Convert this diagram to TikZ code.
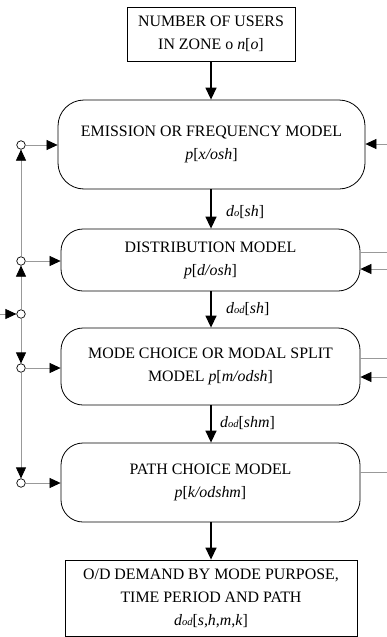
\documentclass[tikz,border=0pt]{standalone}
\usepackage{fontspec}
\setmainfont{Liberation Serif}
\usetikzlibrary{arrows.meta}
% small italic index set on the baseline, as in d_o and d_od
\newcommand{\lsub}[1]{{\fontsize{10.5}{10.5}\selectfont\itshape #1}}

\begin{document}
\begin{tikzpicture}[x=1pt,y=-1pt,
  font=\fontsize{15.9}{23}\selectfont,
  model/.style={draw, line width=0.8pt, rounded corners=22pt, align=center, inner sep=0pt},
  plainbox/.style={draw, line width=0.8pt, align=center, inner sep=0pt},
  flow/.style={line width=1.4pt, -{Triangle[length=12pt,width=11pt]}},
  feed/.style={draw=black!40, line width=0.7pt},
  feedarrow/.style={feed, -{Triangle[length=11pt,width=10pt,color=black]}},
  junction/.style={circle, draw, fill=white, inner sep=0pt, minimum size=8.5pt, line width=0.7pt},
  lbl/.style={anchor=west, inner sep=0pt}]

\useasboundingbox (0,0) rectangle (387,637);

% main chain of models
\node[plainbox, minimum width=168pt, minimum height=54pt] (users) at (211,34)
  {NUMBER OF USERS\\IN ZONE o \textit{n}[\textit{o}]};
\node[model, rounded corners=26pt, minimum width=307pt, minimum height=89pt] (emis) at (211.5,144.5)
  {EMISSION OR FREQUENCY MODEL\\\textit{p}[\textit{x/osh}]};
\node[model, minimum width=299pt, minimum height=62pt] (dist) at (210.5,260)
  {DISTRIBUTION MODEL\\\textit{p}[\textit{d/osh}]};
\node[model, minimum width=299pt, minimum height=77pt] (mode) at (210.5,366.5)
  {MODE CHOICE OR MODAL SPLIT\\MODEL \textit{p}[\textit{m/odsh}]};
\node[model, minimum width=299pt, minimum height=79pt] (path) at (210.5,482.5)
  {PATH CHOICE MODEL\\\textit{p}[\textit{k/odshm}]};
\node[plainbox, minimum width=292pt, minimum height=76pt] (demand) at (211,598)
  {O/D DEMAND BY MODE PURPOSE,\\TIME PERIOD AND PATH\\\textit{d}\lsub{od}[\textit{s},\textit{h},\textit{m},\textit{k}]};

% flows between the stages
\draw[flow] (users.south) -- (users.south |- emis.north);
\draw[flow] (users.south |- emis.south) -- (users.south |- dist.north);
\draw[flow] (users.south |- dist.south) -- (users.south |- mode.north);
\draw[flow] (users.south |- mode.south) -- (users.south |- path.north);
\draw[flow] (users.south |- path.south) -- (users.south |- demand.north);

\node[lbl] (l1) at (226,212) {\textit{d}\lsub{o}[\textit{sh}]};
\node[lbl] (l2) at (226,309) {\textit{d}\lsub{od}[\textit{sh}]};
\node[lbl] (l3) at (220,423) {\textit{d}\lsub{od}[\textit{shm}]};

% feedback on the left
\node[junction] (j1) at (21,145) {};
\node[junction] (j2) at (21,261) {};
\node[junction] (j3) at (21,314) {};
\node[junction] (j4) at (21,368) {};
\node[junction] (j5) at (21,483) {};
\coordinate (jin) at (0,314);

\draw[feedarrow] (jin) -- (j3);
\draw[feedarrow] (j3) -- (j2);
\draw[feedarrow] (j2) -- (j1);
\draw[feedarrow] (j3) -- (j4);
\draw[feedarrow] (j4) -- (j5);

\draw[feedarrow] (j1) -- (j1 -| emis.west);
\draw[feedarrow] (j2) -- (j2 -| dist.west);
\draw[feedarrow] (j4) -- (j4 -| mode.west);
\draw[feedarrow] (j5) -- (j5 -| path.west);

% links on the right
\coordinate (eIn) at (387,144);
\coordinate (dOut) at (387,252);
\coordinate (dIn) at (387,269);
\coordinate (mOut) at (387,358);
\coordinate (mIn) at (387,377);
\coordinate (pOut) at (387,472);

\draw[feedarrow] (eIn) -- (eIn -| emis.east);
\draw[feed] (dOut -| dist.east) -- (dOut);
\draw[feedarrow] (dIn) -- (dIn -| dist.east);
\draw[feed] (mOut -| mode.east) -- (mOut);
\draw[feedarrow] (mIn) -- (mIn -| mode.east);
\draw[feed] (pOut -| path.east) -- (pOut);
\end{tikzpicture}
\end{document}
